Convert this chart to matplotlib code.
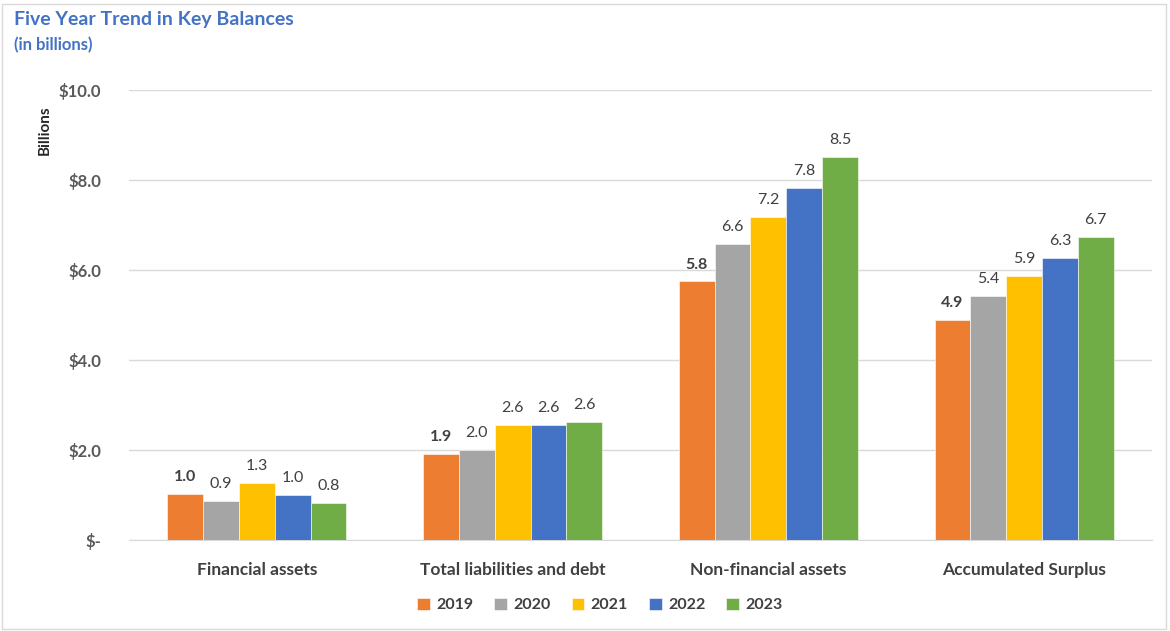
import matplotlib
matplotlib.use("Agg")
import matplotlib.pyplot as plt
from matplotlib.patches import Rectangle
import numpy as np

categories = ["Financial assets", "Total liabilities and debt", "Non-financial assets", "Accumulated Surplus"]
years = ["2019", "2020", "2021", "2022", "2023"]
v2019 = [1.02, 1.91, 5.75, 4.89]
v2020 = [0.87, 2.00, 6.58, 5.42]
v2021 = [1.27, 2.56, 7.18, 5.87]
v2022 = [1.00, 2.56, 7.82, 6.27]
v2023 = [0.82, 2.62, 8.52, 6.73]
series = [v2019, v2020, v2021, v2022, v2023]
colors = ["#ED7D31", "#A5A5A5", "#FFC000", "#4472C4", "#70AD47"]
yticks = [0, 2, 4, 6, 8, 10]
ytick_labels = ["$-", "$2.0", "$4.0", "$6.0", "$8.0", "$10.0"]

plt.rcParams['font.family'] = ['Lato', 'DejaVu Sans']

W, H = 1170, 631
fig = plt.figure(figsize=(W / 100, H / 100), dpi=100)
ax = fig.add_axes([129 / W, 1 - 540 / H, (1152 - 129) / W, (540 - 90) / H])

x = np.arange(len(categories))
bw = 0.14
for i, (vals, c, yr) in enumerate(zip(series, colors, years)):
    pos = x + (i - 2) * bw
    ax.bar(pos, vals, width=bw, color=c, label=yr, zorder=3, edgecolor='white', linewidth=0.4)
    for p, v in zip(pos, vals):
        ax.annotate(f"{v:.1f}", (p, v), xytext=(0, 7), textcoords='offset points',
                    ha='center', va='bottom', fontsize=11.5, color='#404040',
                    fontweight='bold' if i == 0 else 'normal')

ax.set_xlim(-0.5, len(categories) - 0.5)
ax.set_ylim(0, 10)
ax.set_yticks(yticks)
ax.set_yticklabels(ytick_labels, fontsize=12, fontweight='bold', color='#595959')
ax.set_xticks(x)
ax.set_xticklabels(categories, fontsize=12.5, fontweight='bold', color='#404040')
ax.tick_params(axis='both', length=0)
ax.tick_params(axis='y', pad=20)
ax.tick_params(axis='x', pad=16)
ax.grid(axis='y', color='#D9D9D9', linewidth=1, zorder=0)
for s in ['top', 'right', 'left']:
    ax.spines[s].set_visible(False)
ax.spines['bottom'].set_color('#D9D9D9')

fig.text(45 / W, 1 - 130 / H, "Billions", rotation=90, ha='center', va='center',
         fontsize=11, fontweight='bold', color='#262626')
fig.text(14 / W, 1 - 19 / H, "Five Year Trend in Key Balances", ha='left', va='center',
         fontsize=14, fontweight='bold', color='#4472C4')
fig.text(14 / W, 1 - 45 / H, "(in billions)", ha='left', va='center',
         fontsize=12, fontweight='bold', color='#4472C4')

handles, labels = ax.get_legend_handles_labels()
leg = fig.legend(handles, labels, loc='center', bbox_to_anchor=(600 / W, 1 - 605 / H), ncol=5,
                 frameon=False, handlelength=0.8, handleheight=0.8, handletextpad=0.4,
                 columnspacing=1.3, prop={'size': 11.5, 'weight': 'bold'})
for t in leg.get_texts():
    t.set_color('#404040')

fig.patches.append(Rectangle((2 / W, 2 / H), 1 - 6 / W, 1 - 6 / H, transform=fig.transFigure,
                             fill=False, edgecolor='#D9D9D9', linewidth=1))

fig.savefig("out.png", dpi=100)
